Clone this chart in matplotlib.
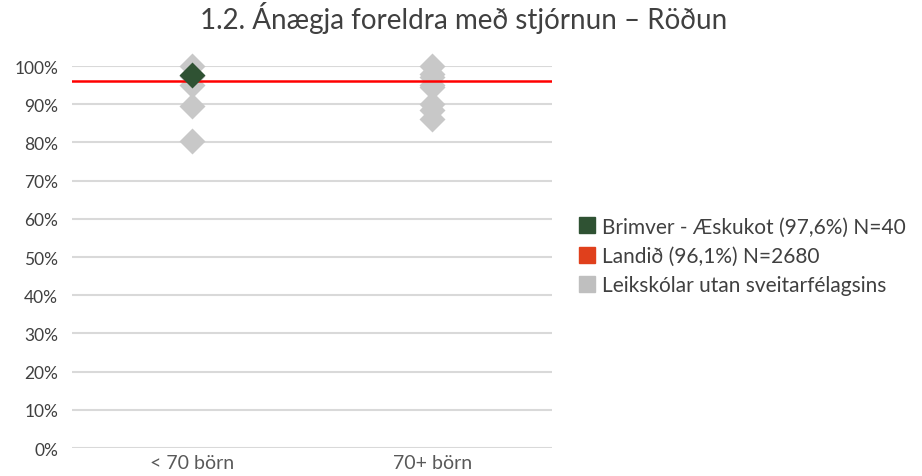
import numpy as np
import matplotlib.pyplot as plt
from matplotlib.lines import Line2D

plt.rcParams['font.family'] = ['Lato', 'DejaVu Sans']

categories = ['< 70 börn', '70+ börn']
other_small = [100, 97.5, 95, 89.5, 80.5]
other_large = [100, 98, 97, 95, 94.5, 90, 88.5, 86]
school_value = 97.6
school_cat = 0
national = 96.1
title = '1.2. Ánægja foreldra með stjórnun – Röðun'
legend_labels = ['Brimver - Æskukot (97,6%) N=40',
                 'Landið (96,1%) N=2680',
                 'Leikskólar utan sveitarfélagsins']

green = '#2f5233'
red = '#ff0000'
red_legend = '#e0401c'
grey = '#c8c8c8'
text_col = '#404040'

fig = plt.figure(figsize=(9.22, 4.77), dpi=100)
ax = fig.add_axes([0.078, 0.0587, 0.521, 0.8008])

for y in range(0, 101, 10):
    ax.axhline(y, color='#d9d9d9', lw=1.5, zorder=0)

ax.plot([0] * len(other_small), other_small, 'D', ms=13, color=grey, mec='none', clip_on=False, zorder=2)
ax.plot([1] * len(other_large), other_large, 'D', ms=13, color=grey, mec='none', clip_on=False, zorder=2)
ax.axhline(national, color=red, lw=1.8, zorder=3)
ax.plot([school_cat], [school_value], 'D', ms=13, color=green, mec='none', clip_on=False, zorder=4)

ax.set_xlim(-0.5, 1.5)
ax.set_ylim(0, 100)
ax.set_xticks([0, 1])
ax.set_xticklabels(categories, fontsize=14, color='#595959')
ax.set_yticks(range(0, 101, 10))
ax.set_yticklabels([f'{v}%' for v in range(0, 101, 10)], fontsize=12.5, color=text_col)
ax.tick_params(length=0, pad=10)
ax.tick_params(axis='x', pad=4)
for s in ax.spines.values():
    s.set_visible(False)

fig.text(0.503, 0.963, title, ha='center', va='center', fontsize=20, color=text_col)

handles = [Line2D([], [], marker='s', ls='none', ms=11.5, color=c)
           for c in [green, red_legend, '#bfbfbf']]
fig.legend(handles, legend_labels, loc='center left', bbox_to_anchor=(0.605, 0.461),
           frameon=False, fontsize=15, labelcolor=text_col, handletextpad=0.2,
           handlelength=1.0, labelspacing=0.45)

fig.savefig('out.png', dpi=100)
